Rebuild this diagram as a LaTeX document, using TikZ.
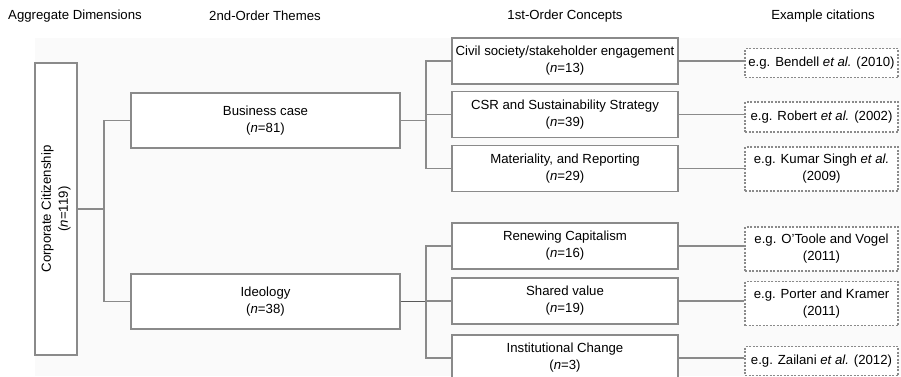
\documentclass[tikz,border=0pt]{standalone}
\usepackage{fontspec}
\setmainfont{Liberation Sans}
\usepackage{tikz}
\usetikzlibrary{positioning,calc}
\definecolor{linegray}{RGB}{138,138,138}
\definecolor{paper}{RGB}{250,250,250}

\begin{document}
\begin{tikzpicture}[x = 1pt, y = -1pt,
    every node/.style = {font = \fontsize{13.2}{17}\selectfont, align = center, inner sep = 0pt},
    head/.style = {},
    box/.style = {draw = linegray, line width = 1.3pt, fill = white, minimum height = 46pt},
    themebox/.style = {box, minimum width = 269pt, minimum height = 55pt},
    conceptbox/.style = {box, minimum width = 226pt},
    citebox/.style = {draw = linegray, line width = 1.3pt, fill = white, dash pattern = on 2pt off 1.5pt, minimum width = 153pt},
    conn/.style = {draw = linegray, line width = 1.3pt}]
    \useasboundingbox (0,0) rectangle (901,376);
    \fill[paper] (35,38) rectangle (901,376);
    % Column headings
    \node[head] (h1) at (75,16) {Aggregate Dimensions};
    \node[head] (h2) at (265,16) {2nd-Order Themes};
    \node[head] (h3) at (565,16) {1st-Order Concepts};
    \node[head] (h4) at (823,16) {Example citations};
    % Aggregate dimension
    \node[box, rotate = 90, minimum width = 292pt, minimum height = 42pt] (cc) at (56,209) {Corporate Citizenship\\(\textit{n}=119)};
    % 2nd-order themes
    \node[themebox] (bc) at (265.5,120.5) {Business case\\(\textit{n}=81)};
    \node[themebox] (id) at (265.5,301.5) {Ideology\\(\textit{n}=38)};
    % 1st-order concepts
    \node[conceptbox] (cs) at (565,61) {Civil society/stakeholder engagement\\(\textit{n}=13)};
    \node[conceptbox] (csr) at (565,114.5) {CSR and Sustainability Strategy\\(\textit{n}=39)};
    \node[conceptbox] (mr) at (565,168.5) {Materiality, and Reporting\\(\textit{n}=29)};
    \node[conceptbox] (rc) at (565,246) {Renewing Capitalism\\(\textit{n}=16)};
    \node[conceptbox] (sv) at (565,301) {Shared value\\(\textit{n}=19)};
    \node[conceptbox] (ic) at (565,358) {Institutional Change\\(\textit{n}=3)};
    % Example citations
    \node[citebox, minimum height = 29pt] (ben) at (821.5,63) {e.g. Bendell \textit{et al.} (2010)};
    \node[citebox, minimum height = 30pt] (rob) at (821.5,117) {e.g. Robert \textit{et al.} (2002)};
    \node[citebox, minimum height = 44pt] (kum) at (821.5,169) {e.g. Kumar Singh \textit{et al.}\\(2009)};
    \node[citebox, minimum height = 44pt] (oto) at (821.5,249) {e.g. O'Toole and Vogel\\(2011)};
    \node[citebox, minimum height = 44pt] (por) at (821.5,303.5) {e.g. Porter and Kramer\\(2011)};
    \node[citebox, minimum height = 29pt] (zai) at (821.5,361) {e.g. Zailani \textit{et al.} (2012)};
    % Junctions
    \coordinate (jcc) at (104,209);
    \coordinate (jbc) at (426,120.5);
    \coordinate (jid) at (426,301.5);
    % Aggregate to themes
    \draw[conn] (cc.south) -- (jcc);
    \draw[conn] (bc.west) -| (jcc);
    \draw[conn] (id.west) -| (jcc);
    % Themes to concepts
    \draw[conn] (bc.east) -- (jbc);
    \draw[conn] (cs.west) -| (jbc);
    \draw[conn] (csr.west) -| (jbc);
    \draw[conn] (mr.west) -| (jbc);
    \draw[conn, draw = black!65] (id.east) -- (jid);
    \draw[conn] (rc.west) -| (jid);
    \draw[conn] (sv.west) -| (jid);
    \draw[conn] (ic.west) -| (jid);
    % Concepts to citations
    \draw[conn] (cs.east) -- (cs.east -| ben.west);
    \draw[conn] (csr.east) -- (csr.east -| rob.west);
    \draw[conn] (mr.east) -- (mr.east -| kum.west);
    \draw[conn] (rc.east) -- (rc.east -| oto.west);
    \draw[conn] (sv.east) -- (sv.east -| por.west);
    \draw[conn] (ic.east) -- (ic.east -| zai.west);
\end{tikzpicture}
\end{document}
